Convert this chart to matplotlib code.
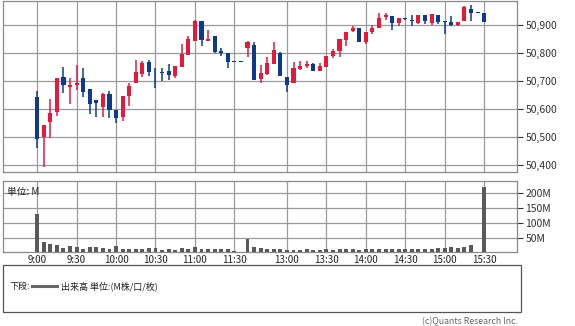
import numpy as np
import matplotlib.pyplot as plt
from matplotlib.patches import Rectangle

plt.rcParams['font.family'] = ['Noto Sans CJK JP', 'DejaVu Sans']

# 5-minute bars: morning 9:00-11:30, a break slot, afternoon 12:30-15:30
times = [f'{h}:{m:02d}' for h in (9, 10, 11) for m in range(0, 60, 5)][:31] + [''] + \
        [f'{h}:{m:02d}' for h in (12, 13, 14, 15) for m in range(0, 60, 5)][6:43]

opens = [50644, 50501, 50554, 50590, 50715, 50680, 50686, 50712, 50670, 50632,
         50608, 50654, 50596, 50572, 50648, 50692, 50725, 50768, 50731, 50729,
         50736, 50718, 50751, 50793, 50844, 50915, 50845, 50861, 50807, 50801,
         50768, 50768, 50820, 50829, 50707, 50725, 50760, 50801, 50715, 50692,
         50743, 50755, 50760, 50737, 50751, 50789, 50808, 50846, 50880, 50888,
         50840, 50874, 50890, 50930, 50933, 50908, 50921, 50918, 50908, 50936,
         50908, 50936, 50911, 50910, 50900, 50915, 50957, 50944, 50944]
highs = [50665, 50543, 50636, 50712, 50751, 50712, 50757, 50745, 50672, 50632,
         50658, 50665, 50598, 50646, 50692, 50777, 50771, 50777, 50745, 50748,
         50760, 50754, 50831, 50861, 50918, 50915, 50882, 50861, 50819, 50801,
         50768, 50768, 50843, 50840, 50757, 50785, 50838, 50804, 50715, 50769,
         50773, 50773, 50765, 50765, 50789, 50815, 50849, 50874, 50896, 50888,
         50876, 50900, 50942, 50942, 50933, 50926, 50926, 50936, 50936, 50936,
         50939, 50936, 50915, 50932, 50910, 50969, 50971, 50944, 50944]
lows = [50460, 50394, 50495, 50576, 50658, 50618, 50668, 50644, 50582, 50570,
        50572, 50567, 50551, 50557, 50611, 50692, 50715, 50719, 50677, 50700,
        50704, 50711, 50751, 50793, 50844, 50826, 50845, 50800, 50789, 50748,
        50768, 50768, 50785, 50704, 50694, 50723, 50760, 50718, 50662, 50692,
        50740, 50748, 50737, 50737, 50751, 50782, 50787, 50826, 50874, 50838,
        50832, 50869, 50890, 50918, 50882, 50896, 50918, 50896, 50903, 50905,
        50901, 50903, 50870, 50896, 50896, 50915, 50915, 50944, 50910]
closes = [50492, 50543, 50587, 50712, 50686, 50686, 50692, 50662, 50618, 50620,
          50654, 50596, 50567, 50646, 50682, 50733, 50765, 50731, 50731, 50729,
          50721, 50754, 50796, 50849, 50915, 50846, 50850, 50805, 50799, 50769,
          50768, 50768, 50840, 50704, 50730, 50765, 50811, 50718, 50686, 50748,
          50754, 50761, 50737, 50754, 50789, 50808, 50849, 50874, 50888, 50838,
          50876, 50890, 50924, 50936, 50908, 50926, 50921, 50914, 50936, 50915,
          50939, 50910, 50911, 50900, 50910, 50965, 50944, 50944, 50910]
volume_m = [129, 36, 28, 25, 15, 21, 19, 12, 18, 18, 15, 12, 21, 12, 12, 12, 10, 15,
            15, 8, 10, 7, 16, 10, 18, 10, 10, 10, 10, 10, 4, 0, 46, 19, 13, 10, 10,
            10, 9, 9, 8, 10, 9, 7, 11, 9, 10, 12, 10, 7, 10, 12, 12, 10, 10, 10, 10,
            10, 10, 12, 11, 13, 16, 19, 16, 19, 25, 0, 223]

tick_labels = ['9:00', '9:30', '10:00', '10:30', '11:00', '11:30',
               '13:00', '13:30', '14:00', '14:30', '15:00', '15:30']
price_ticks = [50400, 50500, 50600, 50700, 50800, 50900]
vol_ticks = [50, 100, 150, 200]

o = np.array(opens); h = np.array(highs); l = np.array(lows); c = np.array(closes)
x = np.arange(len(opens))
tick_pos = [times.index(t) for t in tick_labels]

red = '#e8173c'
blue = '#0b3a8f'
colors = np.where(c > o, red, blue)

W, H = 575, 326
fig = plt.figure(figsize=(W / 100, H / 100), dpi=100)
ax = fig.add_axes([3 / W, 1 - 172 / H, 514 / W, 171.5 / H])
axv = fig.add_axes([3 / W, 1 - 252.3 / H, 514 / W, 71.3 / H])

# candles
ax.vlines(x, l, h, colors=colors, lw=1.1, zorder=3)
body_lo = np.minimum(o, c)
body_h = np.maximum(np.abs(c - o), 3)
ax.bar(x, body_h, bottom=body_lo, width=0.62, color=colors, zorder=4)
ax.set_xlim(-5.2, 73.0)
ax.set_ylim(50375, 50988)
ax.set_yticks(price_ticks)
ax.set_yticklabels([f'{p:,}' for p in price_ticks])
ax.set_xticks(tick_pos)
ax.tick_params(axis='x', length=0, labelbottom=False)

# volume
axv.bar(x, volume_m, width=0.6, color='#5a5a5a', zorder=3)
axv.set_xlim(-5.2, 73.0)
axv.set_ylim(0, 242.5)
axv.set_yticks(vol_ticks)
axv.set_yticklabels([f'{v}M' for v in vol_ticks])
axv.set_xticks(tick_pos)
axv.set_xticklabels(tick_labels)
axv.tick_params(axis='x', length=0, pad=2, labelsize=7, colors='#222222')
axv.text(0.008, 0.92, '単位: M', transform=axv.transAxes, fontsize=7,
         va='top', ha='left', color='#222222')

for a in (ax, axv):
    a.yaxis.tick_right()
    a.tick_params(axis='y', length=4, width=0.8, pad=2, labelsize=7.5,
                  colors='#333333', labelcolor='#333333')
    a.grid(True, color='#9a9a9a', lw=0.9)
    a.set_axisbelow(True)
    for s in a.spines.values():
        s.set_color('#8a8a8a')
        s.set_linewidth(0.9)

# legend box
fig.patches.append(Rectangle((3 / W, 1 - 311.7 / H), 518 / W, 46.7 / H,
                             transform=fig.transFigure, fill=False,
                             edgecolor='#555555', lw=0.9))
fig.text(10 / W, 1 - 286 / H, '下段:', fontsize=6.5, va='center', color='#222222')
fig.add_artist(plt.Line2D([32 / W, 57 / W], [1 - 286 / H, 1 - 286 / H],
                          color='#666666', lw=2.2, transform=fig.transFigure))
fig.text(61 / W, 1 - 286 / H, '出来高 単位:(M株/口/枚)', fontsize=6.5,
         va='center', color='#222222')
fig.text(518 / W, 1 - 322 / H, '(c)Quants Research Inc.', fontsize=6.3,
         ha='right', va='center', color='#666666')

fig.savefig('out.png', dpi=100)
